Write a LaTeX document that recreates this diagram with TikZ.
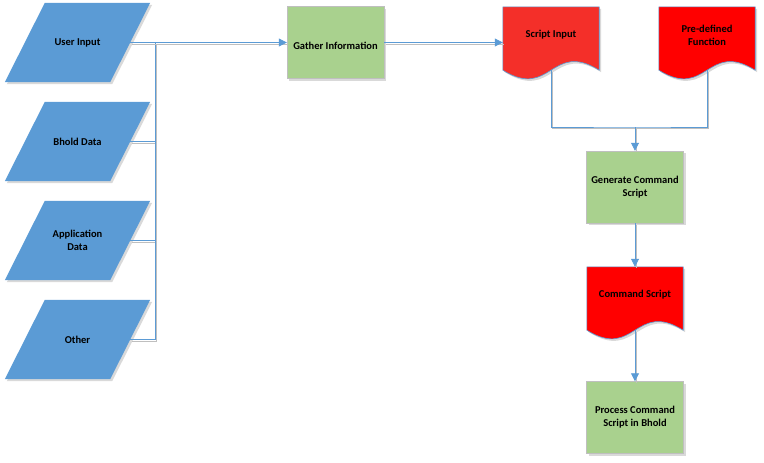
\documentclass[tikz,border=0pt]{standalone}
\usepackage{fontspec}
\setmainfont{Carlito}
\usetikzlibrary{arrows.meta,shadows,backgrounds}
\definecolor{datablue}{HTML}{5B9BD5}
\definecolor{taskgreen}{HTML}{A9D18E}
\definecolor{scriptred}{HTML}{F42F29}
\definecolor{purered}{HTML}{FF0000}
\newcommand\datapage[1]{%
  \path[fill=datablue, softshadow]
    ([xshift=20pt]#1.north west) -- ([xshift=20pt]#1.north east)
    -- ([xshift=-20pt]#1.south east) -- ([xshift=-20pt]#1.south west) -- cycle;}
\newcommand\docpage[2]{%
  \path[fill=#2, draw=datablue, line width=.6pt, softshadow]
    (#1.north west) -- (#1.north east) -- ([yshift=-7pt]#1.south east)
    .. controls ([yshift=23pt]#1.south) and ([yshift=-37pt]#1.south) .. ([yshift=-7pt]#1.south west) -- cycle;}
\begin{document}
\begin{tikzpicture}[x=1pt, y=-1pt,
    font=\fontsize{10.5}{13}\selectfont\bfseries,
    softshadow/.style={drop shadow={shadow xshift=2pt, shadow yshift=-2pt, opacity=.3}},
    indata/.style={rectangle, minimum width=105pt, minimum height=79pt, inner sep=0pt, align=center},
    task/.style={rectangle, fill=taskgreen, draw=black!25, minimum width=97pt, minimum height=72pt,
      inner sep=0pt, align=center, softshadow},
    doc/.style={rectangle, minimum width=96pt, minimum height=56pt, inner sep=0pt, align=center},
    link/.style={datablue, line width=.8pt, preaction={draw=black!25, -, transform canvas={shift={(1.5pt,-1.5pt)}}}},
    flow/.style={link, -{Triangle[length=8pt, width=8pt]}}]
    \useasboundingbox (0,0) rectangle (764,463);
    \node[indata] (user) at (77.5,42.5) {User Input};
    \node[indata] (bhold) at (77.5,141.5) {Bhold Data};
    \node[indata] (app) at (77.5,240.5) {Application\\Data};
    \node[indata] (other) at (77.5,339.5) {Other};
    \node[task, text height=17pt, text depth=2.5pt] (gather) at (335.5,42.5) {Gather Information};
    \node[doc] (script) at (551,35) {Script Input};
    \node[doc] (predef) at (707,35) {Pre-defined\\Function};
    \node[task] (generate) at (635,187) {Generate Command\\Script};
    \node[doc] (command) at (635,295) {Command Script};
    \node[task] (process) at (635,417.5) {Process Command\\Script in Bhold};
    \begin{scope}[on background layer]
        \datapage{user}
        \datapage{bhold}
        \datapage{app}
        \datapage{other}
        \docpage{script}{scriptred}
        \docpage{predef}{purered}
        \docpage{command}{purered}
    \end{scope}
    \coordinate (bus) at (155,42.5);
    \coordinate (merge) at (635,127);
    \draw[link] (bhold.east) -| (bus);
    \draw[link] (app.east) -| (bus);
    \draw[link] (other.east) -| (bus);
    \draw[flow] (user.east) -- (gather.west);
    \draw[flow] (gather.east) -- (gather.east -| script.west);
    \draw[link] ([yshift=-7pt]script.south) |- (merge) -| ([yshift=-7pt]predef.south);
    \draw[flow] (merge) -- (generate);
    \draw[flow] (generate) -- (command);
    \draw[flow] ([yshift=-7pt]command.south) -- (process);
\end{tikzpicture}
\end{document}
